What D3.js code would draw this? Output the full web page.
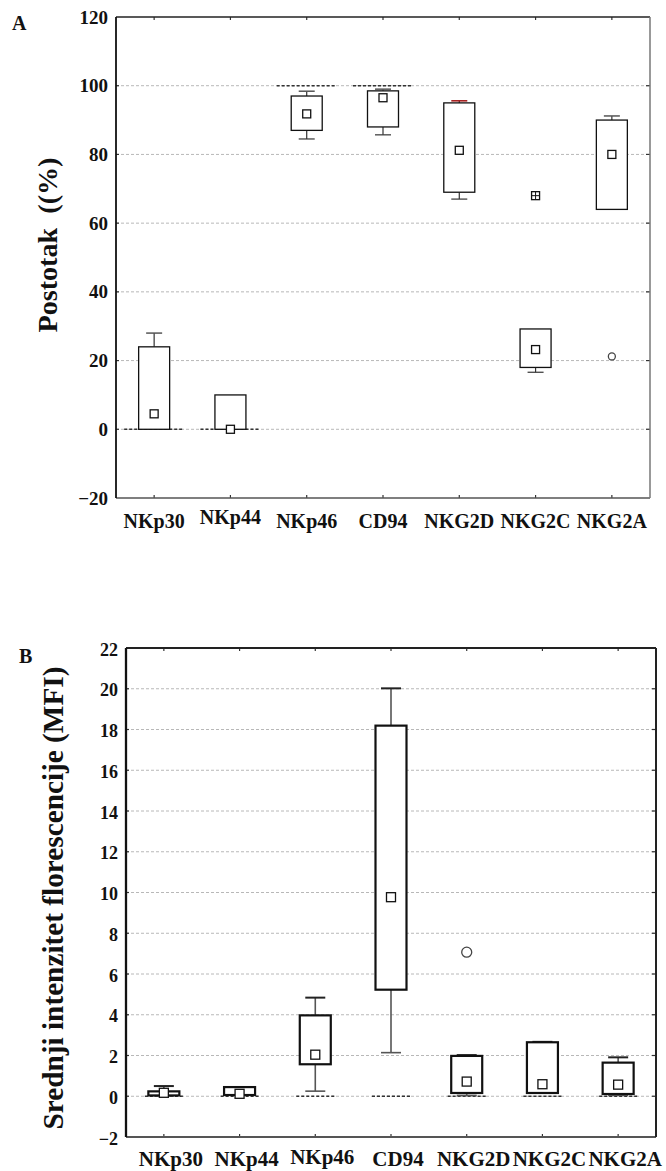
<!DOCTYPE html>
<html>
<head>
<meta charset="utf-8">
<script src="https://cdn.jsdelivr.net/npm/d3@7"></script>
<style>
  html, body { margin: 0; padding: 0; background: #fff; }
  svg text { font-family: "Liberation Serif", "Times New Roman", serif; font-weight: bold; fill: #111; }
</style>
</head>
<body>
<div id="chart"></div>
<script>
// ---------- DATA ----------
const categories = ["NKp30", "NKp44", "NKp46", "CD94", "NKG2D", "NKG2C", "NKG2A"];

// Panel A: percentage (%)
const aTicks = [-20, 0, 20, 40, 60, 80, 100, 120];
const aBoxLow    = [0, 0, 87, 88, 69, 18, 64];
const aBoxHigh   = [24, 10, 97, 98.5, 95, 29.2, 90];
const aWhiskLow  = [null, null, 84.5, 85.7, 67, 16.6, null];
const aWhiskHigh = [28, null, 98.4, 99, 95.6, null, 91.2];
const aMean      = [4.5, 0, 91.8, 96.5, 81.2, 23.2, 80];
const aOutlier   = [null, null, null, null, null, null, 21.2];
const aExtreme   = [null, null, null, null, null, 68, null];
const aRefLine   = [0, 0, 100, 100, null, null, null];

// Panel B: MFI
const bTicks = [-2, 0, 2, 4, 6, 8, 10, 12, 14, 16, 18, 20, 22];
const bBoxLow    = [0.04, 0.06, 1.57, 5.23, 0.16, 0.16, 0.11];
const bBoxHigh   = [0.24, 0.45, 3.97, 18.19, 1.98, 2.65, 1.65];
const bWhiskLow  = [0.02, null, 0.25, 2.14, 0.04, null, 0.05];
const bWhiskHigh = [0.5, null, 4.84, 20.02, 2.02, 2.67, 1.91];
const bMean      = [0.17, 0.12, 2.04, 9.77, 0.72, 0.59, 0.57];
const bOutlier   = [null, null, null, null, 7.07, null, null];
const bRefLine   = [0, 0, 0, 0, 0, 0, 0];

// ---------- DRAW ----------
const W = 666, H = 1171;
const svg = d3.select("#chart").append("svg").attr("width", W).attr("height", H);

function drawPanel(o) {
  const g = svg.append("g");
  const x = d3.scaleBand().domain(categories).range([o.left, o.right]);
  const y = d3.scaleLinear().domain(o.domain).range([o.bottom, o.top]);
  const cx = c => x(c) + x.bandwidth() / 2;
  const inner = o.ticks.filter(t => t !== o.domain[0] && t !== o.domain[1]);

  // grid
  g.append("g").selectAll("line").data(inner).join("line")
    .attr("x1", o.left).attr("x2", o.right)
    .attr("y1", d => y(d)).attr("y2", d => y(d))
    .attr("stroke", "#b8b8b8").attr("stroke-width", 1).attr("stroke-dasharray", "3,2");

  // dark dashed reference segments
  g.append("g").selectAll("line")
    .data(categories.map((c, i) => ({c, v: o.ref[i]})).filter(d => d.v != null))
    .join("line")
    .attr("x1", d => cx(d.c) - o.refHalf).attr("x2", d => cx(d.c) + o.refHalf)
    .attr("y1", d => y(d.v)).attr("y2", d => y(d.v))
    .attr("stroke", "#333").attr("stroke-width", 1.4).attr("stroke-dasharray", "3,2");

  // left axis labels
  const ax = d3.axisLeft(y).tickValues(o.ticks).tickSize(0).tickPadding(8).tickFormat(d3.format("d"));
  const axG = g.append("g").attr("transform", `translate(${o.left},0)`).call(ax);
  axG.select(".domain").remove();
  axG.selectAll("text").attr("font-size", o.tickFont).attr("dy", (o.labelDrop) + "px")
    .style("font-family", "'Liberation Serif', serif").style("font-weight", "bold").attr("fill", "#111");

  // inward ticks: left & right
  g.append("g").selectAll("line").data(inner).join("line")
    .attr("x1", o.right).attr("x2", o.right - 4).attr("y1", d => y(d)).attr("y2", d => y(d))
    .attr("stroke", "#333").attr("stroke-width", 1.2);
  g.append("g").selectAll("line").data(inner).join("line")
    .attr("x1", o.left).attr("x2", o.left + 3).attr("y1", d => y(d)).attr("y2", d => y(d))
    .attr("stroke", "#333").attr("stroke-width", 1.2);
  // category ticks top & bottom
  g.append("g").selectAll("line").data(categories).join("line")
    .attr("x1", d => cx(d)).attr("x2", d => cx(d)).attr("y1", o.top).attr("y2", o.top + 3)
    .attr("stroke", "#333").attr("stroke-width", 1.2);
  g.append("g").selectAll("line").data(categories).join("line")
    .attr("x1", d => cx(d)).attr("x2", d => cx(d)).attr("y1", o.bottom).attr("y2", o.bottom - 3)
    .attr("stroke", "#333").attr("stroke-width", 1.2);

  // frame
  g.append("line").attr("x1", o.left).attr("x2", o.right).attr("y1", o.top).attr("y2", o.top)
    .attr("stroke", "#222").attr("stroke-width", o.frameW);
  g.append("line").attr("x1", o.left).attr("x2", o.right).attr("y1", o.bottom).attr("y2", o.bottom)
    .attr("stroke", "#555").attr("stroke-width", o.frameW);
  g.append("line").attr("x1", o.left).attr("x2", o.left).attr("y1", o.top).attr("y2", o.bottom)
    .attr("stroke", "#111").attr("stroke-width", o.frameW + 0.3);
  g.append("line").attr("x1", o.right).attr("x2", o.right).attr("y1", o.top).attr("y2", o.bottom)
    .attr("stroke", o.rightColor).attr("stroke-width", o.frameW);

  // x labels
  g.append("g").selectAll("text").data(categories).join("text")
    .attr("x", d => cx(d) + o.xLabelDx).attr("y", (d, i) => o.xLabelY + (o.xLabelShift[i] || 0))
    .attr("text-anchor", "middle").attr("font-size", o.xFont).text(d => d);

  // whiskers
  const bw = o.boxW;
  categories.forEach((c, i) => {
    const xc = cx(c);
    const wg = g.append("g");
    if (o.wHigh[i] != null) {
      wg.append("line").attr("x1", xc).attr("x2", xc).attr("y1", y(o.boxHigh[i])).attr("y2", y(o.wHigh[i]))
        .attr("stroke", o.whiskColor).attr("stroke-width", o.whiskW);
      wg.append("line").attr("x1", xc - o.capHalf).attr("x2", xc + o.capHalf)
        .attr("y1", y(o.wHigh[i])).attr("y2", y(o.wHigh[i]))
        .attr("stroke", (o.redCap === i) ? "#a01010" : o.capColor).attr("stroke-width", o.capW);
    }
    if (o.wLow[i] != null) {
      wg.append("line").attr("x1", xc).attr("x2", xc).attr("y1", y(o.boxLow[i])).attr("y2", y(o.wLow[i]))
        .attr("stroke", o.whiskColor).attr("stroke-width", o.whiskW);
      wg.append("line").attr("x1", xc - o.capHalf).attr("x2", xc + o.capHalf)
        .attr("y1", y(o.wLow[i])).attr("y2", y(o.wLow[i]))
        .attr("stroke", o.whiskColor).attr("stroke-width", o.whiskW);
    }
  });

  // boxes
  g.append("g").selectAll("rect").data(categories.map((c, i) => ({c, lo: o.boxLow[i], hi: o.boxHigh[i]})).filter(d => d.lo != null))
    .join("rect")
    .attr("x", d => cx(d.c) - bw / 2).attr("width", bw)
    .attr("y", d => y(d.hi)).attr("height", d => Math.max(1, y(d.lo) - y(d.hi)))
    .attr("fill", "#fff").attr("stroke", "#111").attr("stroke-width", o.boxStroke);

  // means
  const ms = o.meanSize;
  g.append("g").selectAll("rect").data(categories.map((c, i) => ({c, v: o.mean[i]})).filter(d => d.v != null))
    .join("rect")
    .attr("x", d => cx(d.c) - ms / 2).attr("y", d => y(d.v) - ms / 2)
    .attr("width", ms).attr("height", ms)
    .attr("fill", "#fff").attr("stroke", "#111").attr("stroke-width", 1.3);

  // outliers
  g.append("g").selectAll("circle").data(categories.map((c, i) => ({c, v: o.outlier[i]})).filter(d => d.v != null))
    .join("circle")
    .attr("cx", d => cx(d.c)).attr("cy", d => y(d.v)).attr("r", o.outR)
    .attr("fill", "#fff").attr("stroke", "#444").attr("stroke-width", 1.3);

  // extremes (square with cross)
  if (o.extreme) {
    const ex = categories.map((c, i) => ({c, v: o.extreme[i]})).filter(d => d.v != null);
    const eg = g.append("g").selectAll("g").data(ex).join("g")
      .attr("transform", d => `translate(${cx(d.c)},${y(d.v)})`);
    eg.append("rect").attr("x", -4).attr("y", -4).attr("width", 8).attr("height", 8)
      .attr("fill", "#fff").attr("stroke", "#111").attr("stroke-width", 1.3);
    eg.append("line").attr("x1", -4).attr("x2", 4).attr("y1", 0).attr("y2", 0).attr("stroke", "#111").attr("stroke-width", 1);
    eg.append("line").attr("x1", 0).attr("x2", 0).attr("y1", -4).attr("y2", 4).attr("stroke", "#111").attr("stroke-width", 1);
  }

  // y title
  svg.append("text").attr("transform", `translate(${o.titleX},${o.titleY}) rotate(-90)`)
    .attr("text-anchor", "middle").attr("font-size", o.titleFont)
    .attr("textLength", o.titleLen).attr("lengthAdjust", "spacingAndGlyphs").text(o.title);
  // panel letter
  svg.append("text").attr("x", o.letterX).attr("y", o.letterY).attr("font-size", 20).text(o.letter);
}

drawPanel({
  left: 116, right: 650, top: 17, bottom: 498, domain: [-20, 120], ticks: aTicks,
  boxLow: aBoxLow, boxHigh: aBoxHigh, wLow: aWhiskLow, wHigh: aWhiskHigh, mean: aMean,
  outlier: aOutlier, extreme: aExtreme, ref: aRefLine, refHalf: 30, redCap: 4,
  boxW: 31, boxStroke: 1.3, whiskColor: "#333", whiskW: 1.2, capColor: "#555", capW: 1.5, capHalf: 8,
  meanSize: 8, outR: 3.5, frameW: 1.5, rightColor: "#777",
  tickFont: 19, labelDrop: 6, xFont: 20, xLabelY: 528, xLabelDx: 0, xLabelShift: [0, -4, 0, 0, 0, 0, 0],
  title: "Postotak\u00A0\u00A0((%)", titleX: 57, titleY: 245, titleFont: 27, titleLen: 175,
  letter: "A", letterX: 12, letterY: 30
});

drawPanel({
  left: 126, right: 656, top: 648, bottom: 1137, domain: [-2, 22], ticks: bTicks,
  boxLow: bBoxLow, boxHigh: bBoxHigh, wLow: bWhiskLow, wHigh: bWhiskHigh, mean: bMean,
  outlier: bOutlier, extreme: null, ref: bRefLine, refHalf: 19, redCap: -1,
  boxW: 31, boxStroke: 2.2, whiskColor: "#555", whiskW: 1.6, capColor: "#222", capW: 2, capHalf: 10,
  meanSize: 9, outR: 5, frameW: 2, rightColor: "#222",
  tickFont: 18, labelDrop: 7, xFont: 21, xLabelY: 1166, xLabelDx: 7, xLabelShift: [0, 0, -2, 0, 0, 0, 0],
  title: "Srednji intenzitet florescencije (MFI)", titleX: 63, titleY: 898, titleFont: 29, titleLen: 463,
  letter: "B", letterX: 19, letterY: 663
});
</script>
</body>
</html>
